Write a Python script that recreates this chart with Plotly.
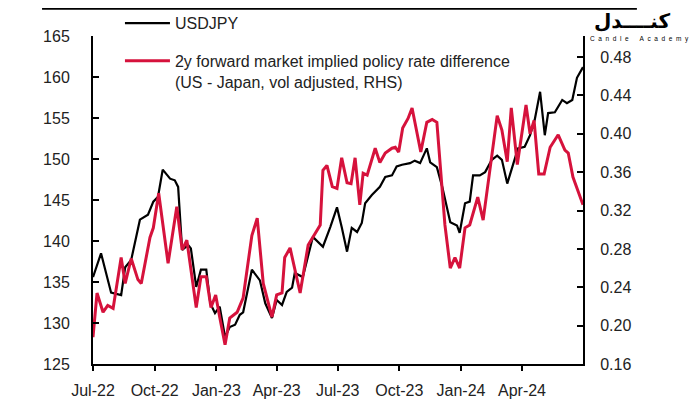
import plotly.graph_objects as go

# ---- data ----
usdjpy_dates = [
    "2022-07-01", "2022-07-13", "2022-07-28", "2022-08-12", "2022-08-18", "2022-08-27",
    "2022-09-09", "2022-09-21", "2022-09-29", "2022-10-06", "2022-10-13", "2022-10-24",
    "2022-10-31", "2022-11-05", "2022-11-11", "2022-11-20", "2022-11-24", "2022-12-02",
    "2022-12-09", "2022-12-17", "2022-12-23", "2022-12-30", "2023-01-06", "2023-01-14",
    "2023-01-21", "2023-01-29", "2023-02-05", "2023-02-10", "2023-02-23", "2023-03-07",
    "2023-03-15", "2023-03-25", "2023-04-01", "2023-04-09", "2023-04-16", "2023-04-24",
    "2023-04-28", "2023-05-10", "2023-05-25", "2023-06-09", "2023-06-20", "2023-06-30",
    "2023-07-07", "2023-07-15", "2023-07-22", "2023-07-30", "2023-08-06", "2023-08-11",
    "2023-08-21", "2023-08-29", "2023-09-02", "2023-09-10", "2023-09-20", "2023-09-27",
    "2023-10-05", "2023-10-17", "2023-10-24", "2023-11-01", "2023-11-11", "2023-11-16",
    "2023-11-26", "2023-12-04", "2023-12-16", "2023-12-26", "2023-12-30", "2024-01-07",
    "2024-01-14", "2024-01-19", "2024-01-29", "2024-02-06", "2024-02-16", "2024-02-24",
    "2024-03-02", "2024-03-10", "2024-03-19", "2024-03-26", "2024-04-05", "2024-04-13",
    "2024-04-20", "2024-04-28", "2024-05-05", "2024-05-10", "2024-05-20", "2024-05-31",
    "2024-06-07", "2024-06-15", "2024-06-22", "2024-07-01",
]
usdjpy_values = [
    135.6, 138.5, 133.7, 133.4, 136.8, 137.7,
    142.6, 143.2, 144.8, 145.4, 148.7, 147.6,
    147.4, 146.6, 138.9, 139.5, 139.1, 134.4,
    136.5, 136.5, 132.4, 131.2, 132.0, 128.3,
    129.5, 129.8, 131.0, 131.3, 136.5, 135.2,
    132.4, 130.6, 132.8, 132.2, 133.8, 134.3,
    136.1, 135.6, 140.5, 139.3, 141.7, 144.1,
    141.7, 138.7, 141.6, 141.1, 142.2, 144.6,
    145.6, 146.2, 146.6, 147.8, 148.0, 149.1,
    149.3, 149.5, 149.8, 149.5, 151.3, 149.6,
    149.0, 146.6, 142.3, 141.9, 141.0, 144.6,
    144.8, 148.0, 148.0, 148.4, 149.9, 150.4,
    149.9, 147.0, 149.5, 151.3, 151.5, 152.9,
    154.8, 158.2, 152.9, 155.6, 155.7, 157.2,
    156.8, 157.2, 159.9, 161.2,
]

rate_dates = [
    "2022-07-01", "2022-07-07", "2022-07-16", "2022-07-23", "2022-07-31", "2022-08-12",
    "2022-08-18", "2022-08-27", "2022-09-06", "2022-09-11", "2022-09-24", "2022-09-29",
    "2022-10-07", "2022-10-21", "2022-11-03", "2022-11-11", "2022-11-18", "2022-12-02",
    "2022-12-09", "2022-12-17", "2022-12-24", "2022-12-31", "2023-01-06", "2023-01-14",
    "2023-01-21", "2023-02-01", "2023-02-10", "2023-02-23", "2023-03-03", "2023-03-12",
    "2023-03-25", "2023-04-01", "2023-04-09", "2023-04-13", "2023-04-21", "2023-04-28",
    "2023-05-06", "2023-05-18", "2023-05-31", "2023-06-05", "2023-06-09", "2023-06-15",
    "2023-06-23", "2023-06-30", "2023-07-07", "2023-07-15", "2023-07-21", "2023-07-27",
    "2023-08-03", "2023-08-08", "2023-08-14", "2023-08-21", "2023-08-26", "2023-09-02",
    "2023-09-10", "2023-09-20", "2023-09-25", "2023-09-30", "2023-10-06", "2023-10-14",
    "2023-10-20", "2023-11-02", "2023-11-11", "2023-11-19", "2023-11-26", "2023-12-08",
    "2023-12-16", "2023-12-23", "2023-12-30", "2024-01-07", "2024-01-14", "2024-01-26",
    "2024-02-03", "2024-02-24", "2024-03-02", "2024-03-10", "2024-03-16", "2024-03-25",
    "2024-03-29", "2024-04-07", "2024-04-13", "2024-04-19", "2024-04-26", "2024-05-04",
    "2024-05-13", "2024-05-25", "2024-06-04", "2024-06-09", "2024-06-16", "2024-07-01",
]
rate_values = [
    0.188, 0.234, 0.214, 0.221, 0.218, 0.271,
    0.244, 0.270, 0.248, 0.244, 0.292, 0.302,
    0.338, 0.265, 0.324, 0.279, 0.289, 0.219,
    0.251, 0.251, 0.219, 0.232, 0.209, 0.180,
    0.208, 0.214, 0.229, 0.294, 0.312, 0.244,
    0.209, 0.232, 0.234, 0.271, 0.281, 0.258,
    0.234, 0.284, 0.300, 0.305, 0.362, 0.367,
    0.345, 0.343, 0.375, 0.349, 0.348, 0.375,
    0.326, 0.359, 0.357, 0.372, 0.385, 0.370,
    0.380, 0.385, 0.386, 0.381, 0.406, 0.416,
    0.427, 0.381, 0.412, 0.415, 0.412, 0.305,
    0.260, 0.271, 0.260, 0.302, 0.305, 0.334,
    0.310, 0.419, 0.404, 0.371, 0.427, 0.368,
    0.388, 0.430, 0.400, 0.414, 0.358, 0.358,
    0.386, 0.399, 0.383, 0.380, 0.355, 0.326,
]

x_tickvals = ["2022-07-01", "2022-10-01", "2023-01-01", "2023-04-01", "2023-07-01",
              "2023-10-01", "2024-01-01", "2024-04-01"]
x_ticktext = ["Jul-22", "Oct-22", "Jan-23", "Apr-23", "Jul-23", "Oct-23", "Jan-24", "Apr-24"]
left_ticks = [125, 130, 135, 140, 145, 150, 155, 160, 165]
right_ticks = [0.16, 0.20, 0.24, 0.28, 0.32, 0.36, 0.40, 0.44, 0.48]

name_usdjpy = "USDJPY"
name_rate = "2y forward market implied policy rate difference<br>(US - Japan, vol adjusted, RHS)"

logo_fa = "کنــــدل"
logo_en = "\u00a0\u00a0".join("Candle") + "\u00a0" * 6 + "\u00a0\u00a0".join("Academy")

FONT = "Liberation Sans, Arial, sans-serif"
RED = "#D6123C"

fig = go.Figure()
fig.add_trace(go.Scatter(
    x=usdjpy_dates, y=usdjpy_values, mode="lines", name=name_usdjpy,
    line=dict(color="#000000", width=2.2), yaxis="y", legendgroup="a",
))
fig.add_trace(go.Scatter(
    x=rate_dates, y=rate_values, mode="lines", name=name_rate,
    line=dict(color=RED, width=3), yaxis="y2", legendgroup="b",
))

axis_common = dict(
    showline=True, linecolor="#000000", linewidth=2, showgrid=False, zeroline=False,
    tickcolor="#000000", tickwidth=2, tickfont=dict(family=FONT, size=16, color="#222222"),
)

# the page body adds an 8px offset, so the figure is 8px smaller than the window
fig.update_layout(
    width=692, height=392,
    margin=dict(l=85, r=117, t=28, b=36, autoexpand=False),
    paper_bgcolor="#ffffff", plot_bgcolor="#ffffff",
    font=dict(family=FONT, size=16, color="#222222"),
    showlegend=True,
    legend=dict(
        x=0.055, y=1.091, xanchor="left", yanchor="top",
        bgcolor="rgba(0,0,0,0)", font=dict(family=FONT, size=16, color="#222222"),
        traceorder="grouped", tracegroupgap=14, valign="top", itemwidth=45,
    ),
    xaxis=dict(
        type="date", range=["2022-07-01", "2024-07-01"],
        tickvals=x_tickvals, ticktext=x_ticktext,
        ticks="outside", ticklen=5, ticklabelstandoff=6,
        **axis_common,
    ),
    yaxis=dict(
        range=[125, 165], tickvals=left_ticks,
        ticks="inside", ticklen=6, ticklabelstandoff=18,
        **axis_common,
    ),
    yaxis2=dict(
        overlaying="y", side="right", range=[0.16, 0.502], tickvals=right_ticks,
        tickformat=".2f", ticks="inside", ticklen=6, ticklabelstandoff=12,
        **axis_common,
    ),
    shapes=[
        dict(type="line", xref="paper", yref="paper", x0=-0.104, x1=1.110,
             y0=1.085, y1=1.085, line=dict(color="#000000", width=3.5)),
    ],
    annotations=[
        dict(text="<b>" + logo_fa + "</b>", xref="paper", yref="paper", x=1.099, y=1.045,
             xanchor="center", yanchor="middle", showarrow=False,
             font=dict(family="DejaVu Sans", size=20, color="#000000")),
        dict(text=logo_en, xref="paper", yref="paper", x=1.116, y=0.992,
             xanchor="center", yanchor="middle", showarrow=False,
             font=dict(family=FONT, size=6.5, color="#000000")),
    ],
)

fig.write_html("out.html")
